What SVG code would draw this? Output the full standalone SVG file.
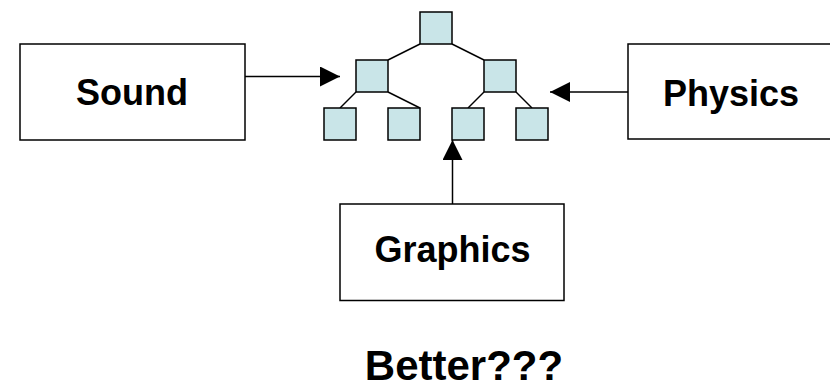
<svg xmlns="http://www.w3.org/2000/svg" width="830" height="386" viewBox="0 0 830 386">
<defs>
<style>
.box{fill:#fff;stroke:#000;stroke-width:1.5}
.tn{fill:#C9E5E8;stroke:#000;stroke-width:1.5}
.lbl{font-family:"Liberation Sans",Arial,sans-serif;font-weight:bold;font-size:36px;fill:#000;text-anchor:middle}
.edge{stroke:#000;stroke-width:1.5;fill:none}
.arr{stroke:#000;stroke-width:1.5;fill:none;marker-end:url(#ah)}
</style>
<marker id="ah" markerUnits="userSpaceOnUse" viewBox="0 0 20 20" refX="20" refY="10" markerWidth="20" markerHeight="20" orient="auto">
<path d="M0,0 L20,10 L0,20 z" fill="#000"/>
</marker>
</defs>
<rect width="830" height="386" fill="#fff"/>
<g id="connectors">
<line class="edge" x1="420" y1="44" x2="388" y2="60"/>
<line class="edge" x1="452" y1="44" x2="484" y2="60"/>
<line class="edge" x1="356" y1="92" x2="340" y2="108"/>
<line class="edge" x1="388" y1="92" x2="420" y2="108"/>
<line class="edge" x1="484" y1="92" x2="468" y2="108"/>
<line class="edge" x1="516" y1="92" x2="532" y2="108"/>
<line class="arr" x1="245" y1="76.5" x2="340" y2="76.5"/>
<line class="arr" x1="628" y1="92" x2="550" y2="92"/>
<line class="arr" x1="452.5" y1="204" x2="452.5" y2="140"/>
</g>
<g id="tree">
<rect class="tn" x="420" y="12" width="32" height="32"/>
<rect class="tn" x="356" y="60" width="32" height="32"/>
<rect class="tn" x="484" y="60" width="32" height="32"/>
<rect class="tn" x="324" y="108" width="32" height="32"/>
<rect class="tn" x="388" y="108" width="32" height="32"/>
<rect class="tn" x="452" y="108" width="32" height="32"/>
<rect class="tn" x="516" y="108" width="32" height="32"/>
</g>
<g id="sound">
<rect class="box" x="20" y="44" width="225" height="96"/>
<text class="lbl" x="132" y="105">Sound</text>
</g>
<g id="physics">
<rect class="box" x="628" y="44" width="210" height="95"/>
<text class="lbl" x="731" y="105.5">Physics</text>
</g>
<g id="graphics">
<rect class="box" x="340" y="204" width="224" height="96.5"/>
<text class="lbl" x="452.5" y="262">Graphics</text>
</g>
<g id="caption">
<text class="lbl" x="464" y="380" style="font-size:42px">Better???</text>
</g>
</svg>
